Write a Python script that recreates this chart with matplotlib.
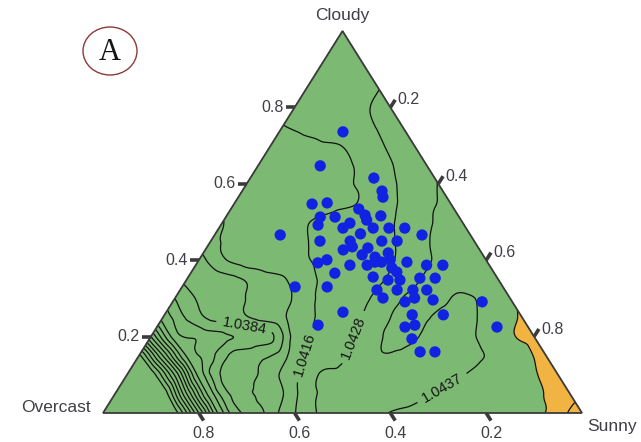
import numpy as np
import matplotlib
matplotlib.use("Agg")
import matplotlib.pyplot as plt
import matplotlib.tri as mtri
from matplotlib.patches import Ellipse, Polygon

# Ratio surface sampled on a ternary grid: one row per Cloudy fraction
# (0.00, 0.05, ... 1.00); each row runs Sunny = 0.00, 0.05, ... up to 1 - Cloudy.
STEP = 0.05
ratio_rows = [
    [1.0170, 1.0175, 1.0185, 1.0192, 1.0275, 1.0364, 1.03867, 1.03956, 1.04153, 1.04287, 1.04316,
     1.04345, 1.04372, 1.04383, 1.04392, 1.04398, 1.04404, 1.04412, 1.04429, 1.04462, 1.04580],
    [1.0175, 1.0180, 1.0188, 1.0275, 1.0360, 1.03875, 1.03941, 1.04004, 1.04242, 1.04294, 1.04312,
     1.04329, 1.04347, 1.04365, 1.04380, 1.04393, 1.04407, 1.04422, 1.04442, 1.04458],
    [1.0180, 1.0190, 1.0262, 1.0355, 1.0386, 1.0391, 1.03964, 1.04127, 1.04281, 1.04296, 1.04310,
     1.04325, 1.04339, 1.04354, 1.04368, 1.04389, 1.04410, 1.04437, 1.04452],
    [1.0195, 1.0275, 1.0352, 1.0372, 1.0387, 1.0391, 1.03972, 1.04175, 1.04243, 1.04295, 1.04362,
     1.04360, 1.04340, 1.04345, 1.04360, 1.04387, 1.04428, 1.04452],
    [1.0290, 1.0358, 1.0368, 1.0373, 1.0377, 1.0382, 1.04045, 1.04189, 1.04251, 1.04318, 1.04385,
     1.04375, 1.04345, 1.04355, 1.04385, 1.04434, 1.04450],
    [1.0356, 1.03761, 1.03857, 1.03902, 1.03947, 1.03992, 1.04125, 1.04204, 1.04258, 1.04337, 1.04390,
     1.04374, 1.04350, 1.04366, 1.04409, 1.04446],
    [1.0375, 1.03851, 1.03892, 1.03932, 1.03972, 1.04022, 1.04174, 1.04222, 1.04270, 1.04342, 1.04390,
     1.04385, 1.04360, 1.04385, 1.04430],
    [1.03860, 1.03879, 1.03917, 1.03956, 1.03995, 1.04125, 1.04191, 1.04228, 1.04265, 1.04323, 1.04380,
     1.04395, 1.04405, 1.04415],
    [1.03900, 1.04000, 1.04047, 1.04090, 1.04133, 1.04172, 1.04205, 1.04238, 1.04271, 1.04331, 1.04380,
     1.04390, 1.04400],
    [1.03990, 1.04033, 1.04074, 1.04115, 1.04157, 1.04190, 1.04222, 1.04255, 1.04295, 1.04364, 1.04385,
     1.04392],
    [1.04008, 1.04050, 1.04092, 1.04135, 1.04173, 1.04206, 1.04238, 1.04271, 1.04328, 1.04378, 1.04385],
    [1.04035, 1.04059, 1.04083, 1.04107, 1.04131, 1.04155, 1.04221, 1.04294, 1.04357, 1.04378],
    [1.04065, 1.04085, 1.04106, 1.04126, 1.04146, 1.04185, 1.04264, 1.04318, 1.04372],
    [1.04096, 1.04112, 1.04128, 1.04144, 1.04163, 1.04238, 1.04304, 1.04357],
    [1.04127, 1.04138, 1.04149, 1.04162, 1.04233, 1.04294, 1.04338],
    [1.04158, 1.04175, 1.04212, 1.04249, 1.04285, 1.04320],
    [1.04175, 1.04200, 1.04235, 1.04275, 1.04301],
    [1.04190, 1.04215, 1.04240, 1.04278],
    [1.04200, 1.04220, 1.04240],
    [1.04205, 1.04220],
    [1.04210],
]

plain_levels = [1.0200, 1.0215, 1.0230, 1.0245, 1.0260, 1.0275, 1.0290, 1.0305, 1.0320,
                1.0335, 1.0350, 1.0366, 1.0375, 1.0393, 1.0401, 1.0444, 1.0450]
labelled_levels = [1.0384, 1.0416, 1.0428, 1.0437]
orange_from = 1.0444

# Observed days as (Sunny, Cloudy) fractions; Overcast = 1 - Sunny - Cloudy
obs_sunny = [0.133, 0.130, 0.258, 0.292, 0.302, 0.163, 0.193, 0.267, 0.288, 0.322,
             0.197, 0.228, 0.267, 0.203, 0.259, 0.322, 0.355, 0.388, 0.433, 0.298,
             0.137, 0.228, 0.291, 0.303, 0.357, 0.389, 0.337, 0.386, 0.364, 0.303,
             0.267, 0.252, 0.322, 0.358, 0.370, 0.384, 0.437, 0.429, 0.482, 0.516,
             0.301, 0.236, 0.303, 0.386, 0.421, 0.453, 0.411, 0.485, 0.517, 0.486,
             0.515, 0.434, 0.485, 0.500, 0.541, 0.582, 0.646, 0.710, 0.369, 0.334,
             0.517, 0.518, 0.536, 0.548, 0.582, 0.613, 0.399, 0.334, 0.413, 0.288,
             0.446]
obs_cloudy = [0.736, 0.647, 0.615, 0.581, 0.565, 0.547, 0.550, 0.534, 0.518, 0.516,
              0.513, 0.513, 0.497, 0.492, 0.484, 0.484, 0.484, 0.484, 0.466, 0.505,
              0.466, 0.450, 0.450, 0.469, 0.450, 0.450, 0.432, 0.419, 0.408, 0.435,
              0.401, 0.393, 0.387, 0.387, 0.395, 0.395, 0.395, 0.369, 0.387, 0.387,
              0.366, 0.330, 0.330, 0.356, 0.348, 0.322, 0.322, 0.353, 0.353, 0.322,
              0.322, 0.301, 0.291, 0.301, 0.296, 0.257, 0.291, 0.225, 0.264, 0.230,
              0.257, 0.225, 0.230, 0.194, 0.160, 0.160, 0.401, 0.414, 0.380, 0.427,
              0.348]

tick_values = [0.2, 0.4, 0.6, 0.8]

GREEN = "#7cb972"
ORANGE = "#f1b443"
EDGE = "#3b3b3b"
TEXT = "#3f3f46"
FONT = ["Liberation Sans", "DejaVu Sans"]


def to_xy(sunny, cloudy):
    sunny = np.asarray(sunny, float)
    cloudy = np.asarray(cloudy, float)
    return sunny + cloudy / 2.0, cloudy


# grid nodes and explicit ternary triangles
node_s, node_c, node_z, index = [], [], [], {}
for i, row in enumerate(ratio_rows):
    for j, val in enumerate(row):
        index[(i, j)] = len(node_z)
        node_s.append(j * STEP)
        node_c.append(i * STEP)
        node_z.append(val)
triangles = []
for i in range(len(ratio_rows) - 1):
    n = len(ratio_rows[i])
    for j in range(n - 1):
        triangles.append([index[(i, j)], index[(i, j + 1)], index[(i + 1, j)]])
        if j <= n - 3:
            triangles.append([index[(i, j + 1)], index[(i + 1, j + 1)], index[(i + 1, j)]])

gx, gy = to_xy(node_s, node_c)
z = np.array(node_z)
tri = mtri.Triangulation(gx, gy, triangles)
interp = mtri.CubicTriInterpolator(tri, z, kind="geom")
tri_f, z_f = mtri.UniformTriRefiner(tri).refine_field(z, triinterpolator=interp, subdiv=4)

fig = plt.figure(figsize=(6.41, 4.42), dpi=100)
ax = fig.add_axes([0, 0, 1, 1])
ax.set_xlim(-103 / 479, 538 / 479)
ax.set_ylim(-29 / 382, 413 / 382)
ax.axis("off")

ax.tricontourf(tri_f, z_f, levels=[z_f.min() - 1, orange_from, z_f.max() + 1],
               colors=[GREEN, ORANGE], zorder=1)
line_kw = dict(colors="#111111", linewidths=0.9, linestyles="solid", zorder=2)
ax.tricontour(tri_f, z_f, levels=plain_levels, **line_kw)
cs = ax.tricontour(tri_f, z_f, levels=labelled_levels, **line_kw)

ax.add_patch(Polygon([(0, 0), (1, 0), (0.5, 1)], closed=True, fill=False,
                     edgecolor=EDGE, linewidth=1.3, zorder=3))

ox, oy = to_xy(obs_sunny, obs_cloudy)
ax.scatter(ox, oy, s=66, color="#1222e2", edgecolors="none", zorder=5)

label_spots = [(0.296, 0.241), (0.411, 0.157), (0.520, 0.199), (0.704, 0.073)]
ax.clabel(cs, inline=True, fmt="%.4f", fontsize=10.5, manual=label_spots, inline_spacing=3)
for t in cs.labelTexts:
    t.set_family(FONT)
    t.set_color("#161616")
    t.set_zorder(6)

# axis ticks: Cloudy on the left edge, Sunny on the right edge, Overcast along the base
px, py = 1 / 479, 1 / 382
tick_kw = dict(color=EDGE, linewidth=2.6, solid_capstyle="butt", zorder=4)
txt_kw = dict(fontsize=11.5, color=TEXT, family=FONT)
for t in tick_values:
    # left edge: Cloudy = t
    x0, y0 = to_xy(0.0, t)
    ax.plot([x0 - 9 * px, x0], [y0, y0], **tick_kw)
    ax.text(x0 - 11 * px, y0, f"{t:.1f}", ha="right", va="center", **txt_kw)
    # right edge: Sunny = t
    x0, y0 = to_xy(t, 1 - t)
    x1, y1 = x0 + 4.8 * px, y0 + 7.6 * py
    ax.plot([x0, x1], [y0, y1], **tick_kw)
    ax.text(x1 + 2 * px, y1, f"{t:.1f}", ha="left", va="center", **txt_kw)
    # base: Overcast = t
    x0, y0 = to_xy(1 - t, 0.0)
    x1, y1 = x0 + 4.8 * px, y0 - 7.6 * py
    ax.plot([x0, x1], [y0, y1], **tick_kw)
    ax.text(x1, y1 - 5 * py, f"{t:.1f}", ha="center", va="top", **txt_kw)

name_kw = dict(fontsize=12.5, color=TEXT, family=FONT)
ax.text(0.5, 1 + 16 * py, "Cloudy", ha="center", va="center", **name_kw)
ax.text(-82 * px, 5 * py, "Overcast", ha="left", va="center", **name_kw)
ax.text(484 * px, -13 * py, "Sunny", ha="left", va="center", **name_kw)

# panel tag
cx, cy = 7 * px, 362 * py
ax.add_patch(Ellipse((cx, cy), 54 * px, 48 * py, fill=False, edgecolor="#8c3a3a",
                     linewidth=1.0, zorder=4))
ax.text(cx, cy - 1 * py, "A", ha="center", va="center", fontsize=22, color="#141414",
        family=["Liberation Serif", "DejaVu Serif"])

fig.savefig("out.png", dpi=100)
